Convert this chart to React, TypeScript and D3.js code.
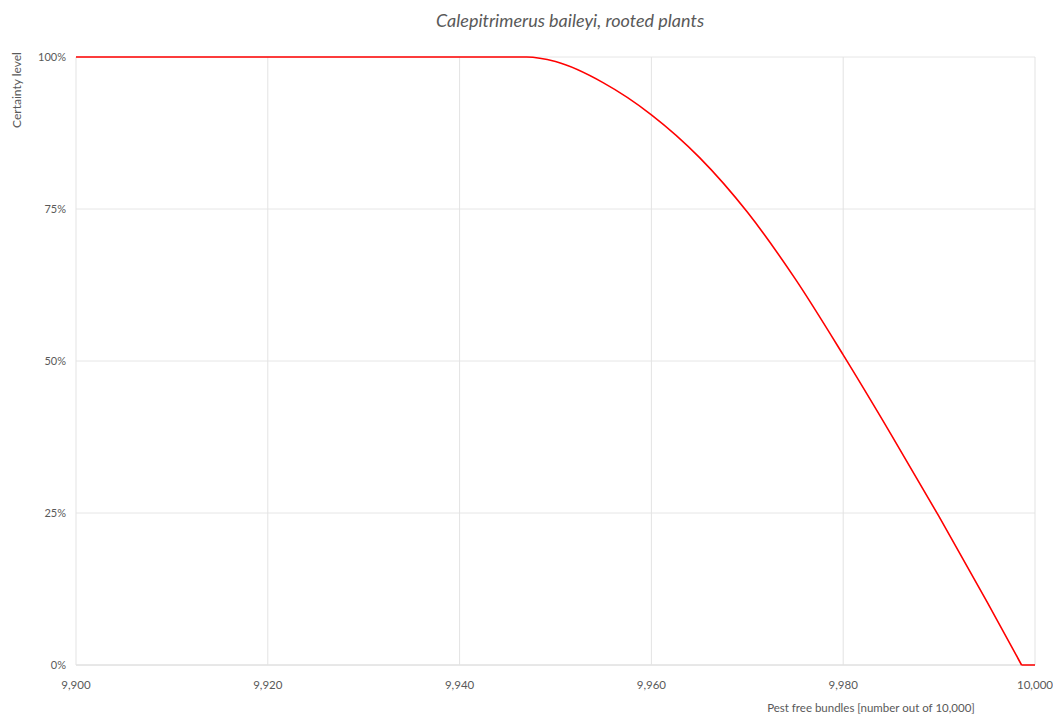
import React from "react";
import * as d3 from "d3";

const titleText = "Calepitrimerus baileyi, rooted plants";
const yAxisTitle = "Certainty level";
const xAxisTitle = "Pest free bundles [number out of 10,000]";

const xTicks = [9900, 9920, 9940, 9960, 9980, 10000];
const yTicks = [0, 0.25, 0.5, 0.75, 1];

const bundles = [9900, 9947, 9950, 9955, 9960, 9965, 9970, 9975, 9980, 9985, 9990, 9995, 9998.6, 10000];
const certainty = [1, 1, 0.9925, 0.9575, 0.905, 0.835, 0.745, 0.635, 0.51, 0.379, 0.244, 0.104, 0, 0];

export default function App() {
  const W = 1053, H = 716;
  const x = d3.scaleLinear().domain([9900, 10000]).range([76, 1035]);
  const y = d3.scaleLinear().domain([0, 1]).range([665, 57]);
  const fmtX = d3.format(",");
  const fmtY = d3.format(".0%");
  const pts: [number, number][] = bundles.map((b, i) => [b, certainty[i]]);
  const zeroIdx = certainty.indexOf(0);
  const curvePts = pts.slice(0, zeroIdx + 1);
  const tailPts = pts.slice(zeroIdx);
  const smooth = d3.line<[number, number]>().x(d => x(d[0])).y(d => y(d[1])).curve(d3.curveMonotoneX);
  const straight = d3.line<[number, number]>().x(d => x(d[0])).y(d => y(d[1]));
  const font = "Lato, 'Open Sans', sans-serif";
  return (
    <svg width={W} height={H} style={{ position: "absolute", left: 0, top: 0 }} fontFamily={font}>
      <rect width={W} height={H} fill="#fff" />
      <text x={570} y={27} textAnchor="middle" fontSize={18} fontStyle="italic" fill="#595959">{titleText}</text>
      {yTicks.map(t => (
        <g key={"y" + t}>
          <line x1={76} x2={1035} y1={y(t)} y2={y(t)} stroke={t === 0 ? "#d0d0d0" : "#e6e6e6"} strokeWidth={1} />
          <text x={66} y={y(t) + 4} textAnchor="end" fontSize={11} fill="#595959">{fmtY(t)}</text>
        </g>
      ))}
      {xTicks.map(t => (
        <g key={"x" + t}>
          <line x1={x(t)} x2={x(t)} y1={57} y2={665} stroke="#e3e3e3" strokeWidth={1} />
          <text x={x(t)} y={689} textAnchor="middle" fontSize={11.5} fill="#595959">{fmtX(t)}</text>
        </g>
      ))}
      <path d={(smooth(curvePts) || "") + (straight(tailPts) || "")} fill="none" stroke="#ff0000" strokeWidth={1.6} strokeLinejoin="round" />
      <text transform="translate(21,90) rotate(-90)" textAnchor="middle" fontSize={12} fill="#595959">{yAxisTitle}</text>
      <text x={871} y={712} textAnchor="middle" fontSize={11.5} fill="#595959">{xAxisTitle}</text>
    </svg>
  );
}
